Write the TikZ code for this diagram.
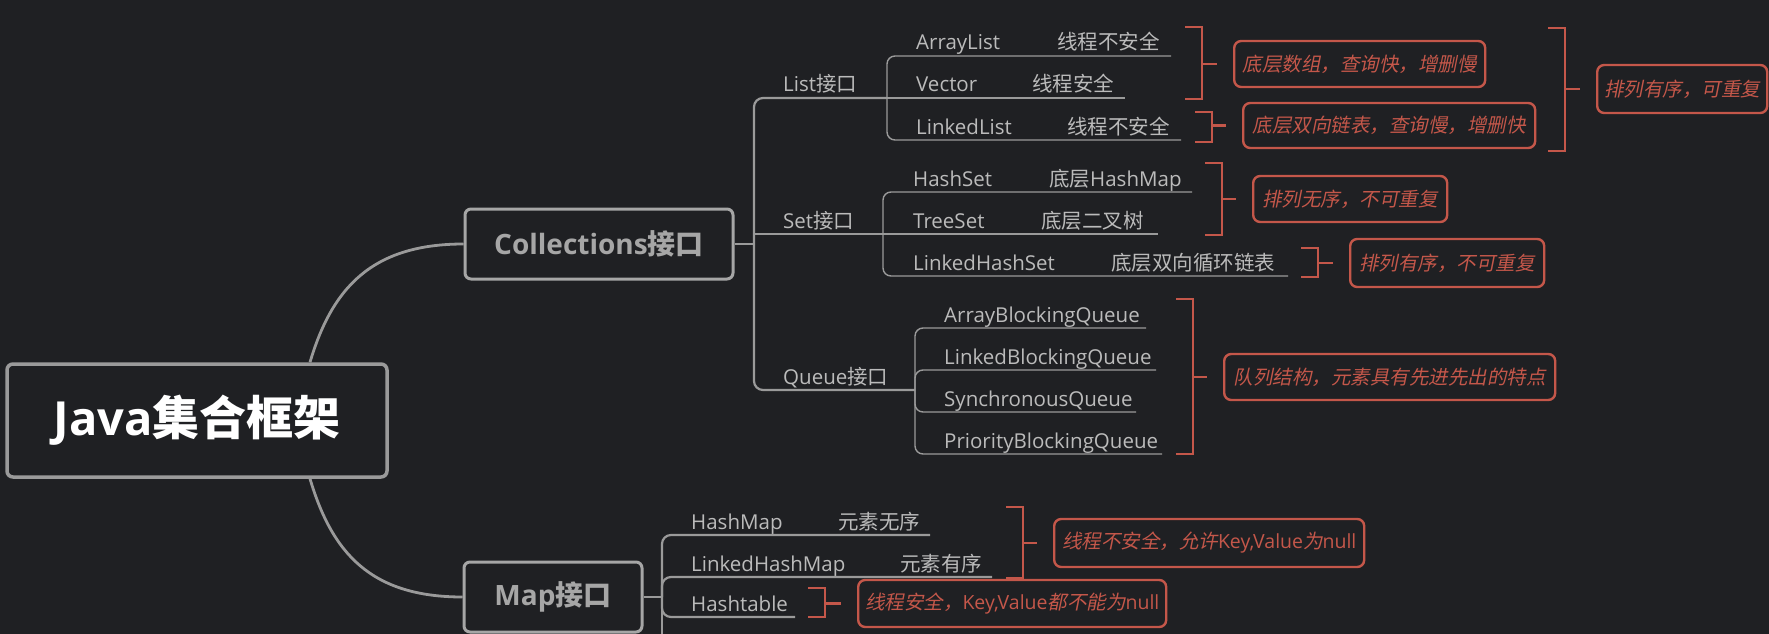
\documentclass[tikz,border=0pt]{standalone}
\usepackage{fontspec}
\setmainfont{Open Sans}
\newfontfamily\zhf{Noto Sans CJK SC}
\newfontfamily\zhit{Noto Sans CJK SC}[FakeSlant=0.2]
\newcommand\zh[1]{{\zhf#1}}
\newcommand\zi[1]{{\zhit#1}}
\definecolor{bg}{HTML}{1F2023}
\definecolor{lgray}{HTML}{9A9A9A}
\definecolor{tgray}{HTML}{BBBBBB}
\definecolor{bgray}{HTML}{A6A6A6}
\definecolor{rd}{HTML}{C4574A}
\tikzset{
  rootline/.style={draw=lgray, line width=2.8pt},
  mainline/.style={draw=lgray, line width=2.2pt, rounded corners=9pt},
  subline/.style={draw=lgray, line width=1.4pt, rounded corners=8pt},
  gtext/.style={anchor=base west, inner sep=0pt, text=tgray, font=\fontsize{20.5}{24}\selectfont},
  redline/.style={draw=rd, line width=2.6pt},
  redbox/.style={draw=rd, line width=2.4pt, rounded corners=7pt, anchor=west, inner sep=0pt, text=rd, font=\fontsize{19.5}{23}\selectfont},
  topbox/.style={draw=bgray, line width=3pt, rounded corners=6pt, inner sep=0pt, text=bgray, font=\bfseries\fontsize{28}{32}\selectfont},
  rootbox/.style={draw=lgray, line width=3.5pt, rounded corners=6pt, inner sep=0pt, text=white, font=\bfseries\fontsize{47}{52}\selectfont},
}
\newcommand\brk[5]{% x1, ytop, ybot, ymid, name of box
  \draw[redline] (#1,#2) -- (#1+17,#2) -- (#1+17,#3) -- (#1,#3);
  \draw[redline] (#1+17,#4) -- ([xshift=-16pt]#5.west |- 0,#4);
}
\begin{document}
\begin{tikzpicture}[x=1pt,y=-1pt]
\fill[bg] (0,0) rectangle (1769,634);
\useasboundingbox (0,0) rectangle (1769,634);

% main boxes
\node[rootbox, minimum width=380pt, minimum height=113pt] (root) at (197,420.5) {Java\zh{集合框架}};
\node[topbox, minimum width=268pt, minimum height=70pt] (coll) at (599,244) {Collections\zh{接口}};
\node[topbox, minimum width=178pt, minimum height=70pt] (map) at (553,597) {Map\zh{接口}};

\coordinate (rt) at ([xshift=113pt]root.north);
\coordinate (rb) at ([xshift=113pt]root.south);
\draw[rootline] (rt) .. controls +(22,-74) and +(-92,0) .. (coll.west);
\draw[rootline] (rb) .. controls +(22,74) and +(-92,0) .. (map.west);

% Collections trunk
\coordinate (ct) at (754,244);
\coordinate (lj) at (887,98);
\coordinate (sj) at (883,234);
\coordinate (qj) at (915,390);
\draw[mainline] (coll.east) -- (ct);
\draw[mainline] (ct) -- (754,98) -- (lj);
\draw[mainline] (754,234) -- (sj);
\draw[mainline] (ct) -- (754,390) -- (qj);

% List
\node[gtext] (list) at (783,92) {List\zh{接口}};
\draw[subline] (lj) -- (887,56) -- (1171,56);
\draw[subline] (lj) -- (1125,98);
\draw[subline] (lj) -- (887,140) -- (1181,140);
\node[gtext] (al) at (916,50) {ArrayList};
\node[gtext] (alt) at (1057,50) {\zh{线程不安全}};
\node[gtext] (vec) at (916,92) {Vector};
\node[gtext] (vect) at (1032,92) {\zh{线程安全}};
\node[gtext] (ll) at (916,134) {LinkedList};
\node[gtext] (llt) at (1067,134) {\zh{线程不安全}};

% Set
\node[gtext] (set) at (783,228) {Set\zh{接口}};
\draw[subline] (sj) -- (883,192) -- (1192,192);
\draw[subline] (sj) -- (1158,234);
\draw[subline] (sj) -- (883,276) -- (1288,276);
\node[gtext] (hs) at (913,186) {HashSet};
\node[gtext] (hst) at (1049,186) {\zh{底层}HashMap};
\node[gtext] (ts) at (913,228) {TreeSet};
\node[gtext] (tst) at (1041,228) {\zh{底层二叉树}};
\node[gtext] (lhs) at (913,270) {LinkedHashSet};
\node[gtext] (lhst) at (1111,270) {\zh{底层双向循环链表}};

% Queue
\node[gtext] (queue) at (783,384) {Queue\zh{接口}};
\draw[subline] (qj) -- (915,328) -- (1146,328);
\draw[subline] (qj) -- (915,370) -- (1156,370);
\draw[subline] (qj) -- (915,412) -- (1136,412);
\draw[subline] (qj) -- (915,454) -- (1162,454);
\node[gtext] (abq) at (944,322) {ArrayBlockingQueue};
\node[gtext] (lbq) at (944,364) {LinkedBlockingQueue};
\node[gtext] (sq) at (944,406) {SynchronousQueue};
\node[gtext] (pbq) at (944,448) {PriorityBlockingQueue};

% Map
\coordinate (mt) at (662,597);
\draw[mainline] (map.east) -- (mt);
\draw[mainline] (mt) -- (662,535) -- (930,535);
\draw[mainline] (mt) -- (662,577) -- (992,577);
\draw[mainline] (mt) -- (662,617) -- (795,617);
\draw[mainline] (mt) -- (662,640);
\node[gtext] (hm) at (691,529) {HashMap};
\node[gtext] (hmt) at (838,529) {\zh{元素无序}};
\node[gtext] (lhm) at (691,571) {LinkedHashMap};
\node[gtext] (lhmt) at (900,571) {\zh{元素有序}};
\node[gtext] (ht) at (691,611) {Hashtable};

% red notes
\node[redbox, minimum width=251pt, minimum height=46pt] (n1) at (1233,64) {\zi{底层数组，查询快，增删慢}};
\node[redbox, minimum width=292pt, minimum height=45pt] (n2) at (1242,125.5) {\zi{底层双向链表，查询慢，增删快}};
\node[redbox, minimum width=170pt, minimum height=48pt] (n3) at (1596,89) {\zi{排列有序，可重复}};
\node[redbox, minimum width=194pt, minimum height=46pt] (n4) at (1252,199) {\zi{排列无序，不可重复}};
\node[redbox, minimum width=194pt, minimum height=48pt] (n5) at (1349,263) {\zi{排列有序，不可重复}};
\node[redbox, minimum width=331pt, minimum height=46pt] (n6) at (1223,377) {\zi{队列结构，元素具有先进先出的特点}};
\node[redbox, minimum width=310pt, minimum height=48pt] (n7) at (1053,543) {\zi{线程不安全，允许}Key,Value\zi{为}null};
\node[redbox, minimum width=308pt, minimum height=47pt] (n8) at (857,603.5) {\zi{线程安全，}Key,Value\zi{都不能为}null};

\brk{1185}{27}{99}{64}{n1}
\brk{1195}{112}{142}{125.5}{n2}
\brk{1548}{28}{151}{89}{n3}
\brk{1205}{163}{235}{199}{n4}
\brk{1301}{248}{277}{263}{n5}
\brk{1176}{299}{454}{377}{n6}
\brk{1006}{507}{578}{543}{n7}
\brk{808}{588}{617}{603.5}{n8}
\end{tikzpicture}
\end{document}
